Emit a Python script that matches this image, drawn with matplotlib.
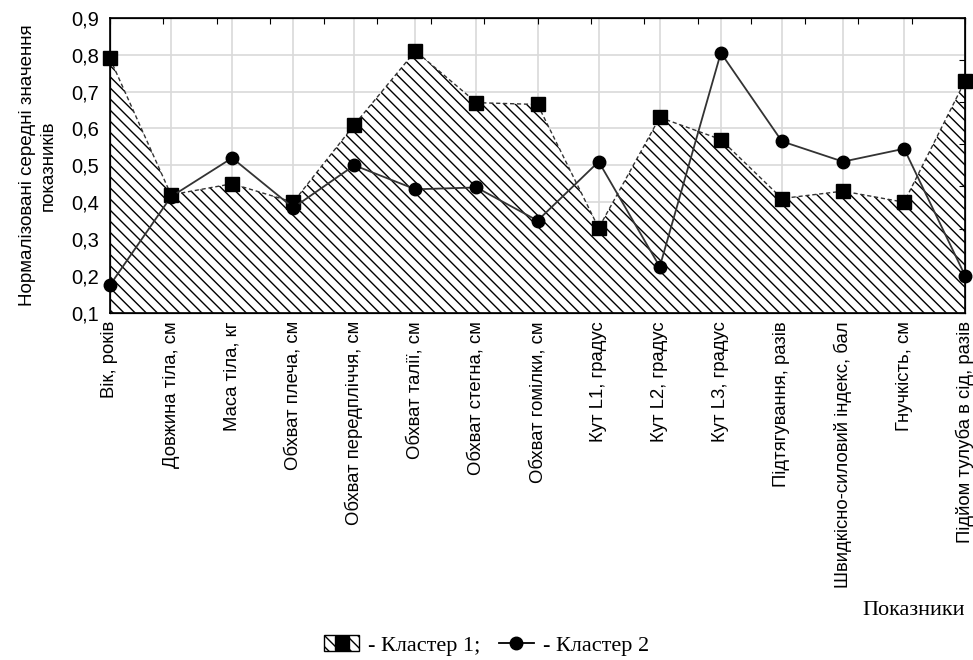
import numpy as np
import matplotlib.pyplot as plt
from matplotlib.patches import Patch
from matplotlib.lines import Line2D
from matplotlib.ticker import FuncFormatter

pokaznyky = ["Вік, років", "Довжина тіла, см", "Маса тіла, кг", "Обхват плеча, см",
             "Обхват передпліччя, см", "Обхват талії, см", "Обхват стегна, см",
             "Обхват гомілки, см", "Кут L1, градус", "Кут L2, градус", "Кут L3, градус",
             "Підтягування, разів", "Швидкісно-силовий індекс, бал", "Гнучкість, см",
             "Підйом тулуба в сід, разів"]

klaster1 = [0.79, 0.42, 0.45, 0.40, 0.61, 0.81, 0.67, 0.665, 0.33, 0.63, 0.57,
            0.41, 0.43, 0.40, 0.73]
klaster2 = [0.175, 0.415, 0.52, 0.385, 0.50, 0.435, 0.44, 0.35, 0.51, 0.225, 0.805,
            0.565, 0.51, 0.545, 0.20]

sans = "Liberation Sans"
serif = "Liberation Serif"

x = np.arange(len(pokaznyky))

fig = plt.figure(figsize=(9.73, 6.6), dpi=100)
ax = fig.add_axes([0.113, 0.526, 0.879, 0.447])

# заштрихована область для кластера 1
ax.fill_between(x, 0.1, klaster1, facecolor="white", edgecolor="black",
                hatch="\\\\\\", linewidth=0)
ax.plot(x, klaster1, color="#333333", linestyle=(0, (3, 2)), linewidth=1)
ax.plot(x, klaster1, linestyle="none", marker="s", markersize=10, color="black",
        clip_on=False, zorder=5)
ax.plot(x, klaster2, color="#333333", linewidth=1.3, marker="o", markersize=9,
        markerfacecolor="black", markeredgecolor="black", clip_on=False, zorder=6)

ax.set_xlim(0, len(pokaznyky) - 1)
ax.set_ylim(0.1, 0.9)
ax.set_yticks(np.arange(0.1, 0.91, 0.1))
ax.yaxis.set_major_formatter(FuncFormatter(lambda v, p: f"{v:.1f}".replace(".", ",")))
ax.set_xticks(x)
ax.set_xticklabels(pokaznyky, rotation=90)
ax.tick_params(axis="x", length=0, pad=6, labelsize=13.3, labelfontfamily=sans)
ax.tick_params(axis="y", length=0, pad=8, labelsize=14.5, labelfontfamily=sans)
ax.grid(True, color="#d9d9d9", linewidth=1.2)
ax.set_axisbelow(True)
for s in ax.spines.values():
    s.set_linewidth(1.2)

# дрібні поділки по верхній і правій осях
top = ax.twiny()
top.set_xlim(0, 16)
top.set_xticks(np.arange(0, 17, 1))
top.tick_params(axis="x", direction="in", length=4, labeltop=False)
right = ax.twinx()
right.set_ylim(0, 7)
right.set_yticks(np.arange(0, 8, 1))
right.tick_params(axis="y", direction="in", length=4, labelright=False)

ax.set_ylabel("Нормалізовані середні значення\nпоказників", family=sans,
              fontsize=13.5, labelpad=10, linespacing=1.35)

fig.text(0.992, 0.075, "Показники", family=serif, fontsize=16, ha="right", va="center")

h1 = (Patch(facecolor="white", edgecolor="black", hatch="\\\\\\", linewidth=1),
      Line2D([], [], linestyle="none", marker="s", markersize=10, color="black"))
h2 = Line2D([], [], color="black", linewidth=1.3, marker="o", markersize=9)
fig.legend([h1, h2], ["- Кластер 1;", "- Кластер 2"], loc="center",
           bbox_to_anchor=(0.5, 0.022), ncol=2, frameon=False,
           prop={"family": serif, "size": 16}, handlelength=1.6,
           handletextpad=0.4, columnspacing=0.8)

fig.savefig("out.png", dpi=100)
